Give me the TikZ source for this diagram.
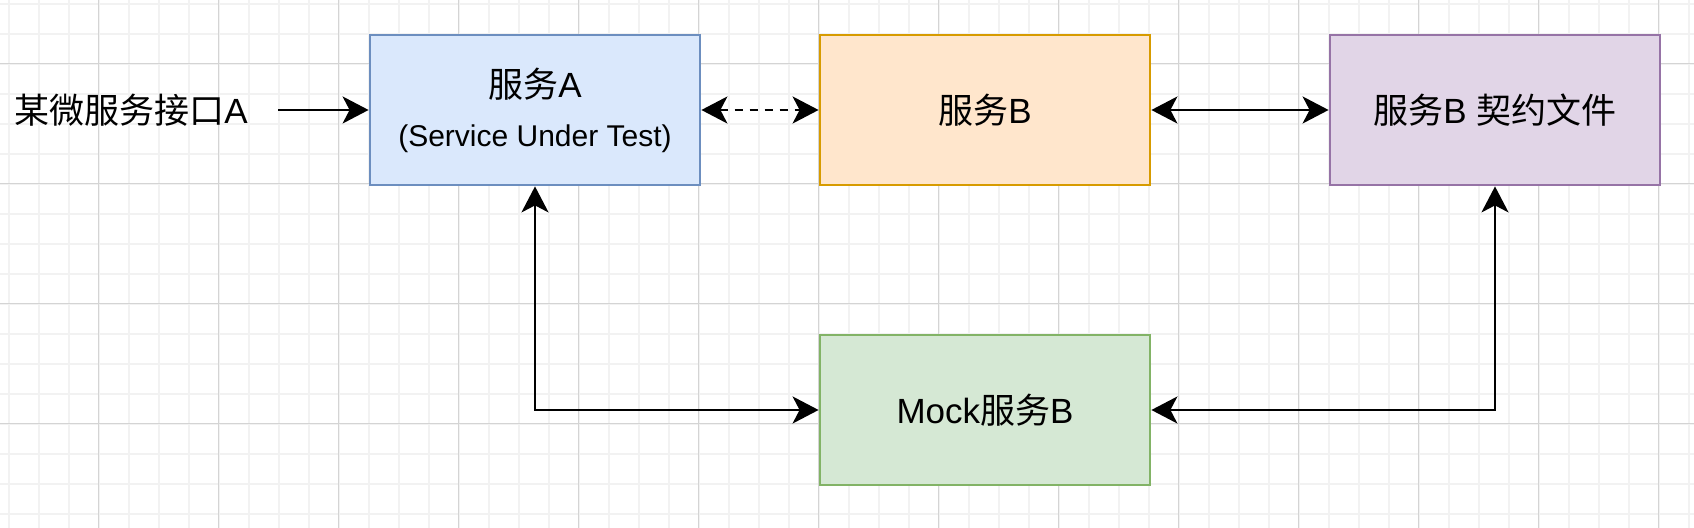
\documentclass[tikz,border=0pt]{standalone}
\usepackage{fontspec}
\setmainfont{Liberation Sans}
\newfontfamily\cjk{Noto Sans CJK SC}
\usetikzlibrary{arrows.meta}
\definecolor{aFill}{HTML}{DAE8FC}\definecolor{aLine}{HTML}{6C8EBF}
\definecolor{bFill}{HTML}{FFE6CC}\definecolor{bLine}{HTML}{D79B00}
\definecolor{cFill}{HTML}{E1D5E7}\definecolor{cLine}{HTML}{9673A6}
\definecolor{mFill}{HTML}{D5E8D4}\definecolor{mLine}{HTML}{82B366}
\definecolor{gridMinor}{HTML}{F2F2F2}\definecolor{gridMajor}{HTML}{D4D4D4}

\begin{document}
\begin{tikzpicture}[x=0.5pt,y=-0.5pt,
	svc/.style={draw,line width=1.4pt,minimum width=165pt,minimum height=75pt,inner sep=0pt,align=center,font=\fontsize{17.5}{24.5}\selectfont},
	arr/.style={line width=1.35pt,-{Stealth[length=13pt,width=13.5pt,inset=3.5pt]}},
	arr2/.style={arr,{Stealth[length=13pt,width=13.5pt,inset=3.5pt]}-{Stealth[length=13pt,width=13.5pt,inset=3.5pt]}}
	]
	\useasboundingbox (0,0) rectangle (1694,528);
	\fill[white] (0,0) rectangle (1694,528);
	% background grid
	\begin{scope}
		\clip (0,0) rectangle (1694,528);
		\foreach \i in {0,...,56} \draw[gridMinor,line width=1pt] (8.5+30*\i,0) -- ++(0,528);
		\foreach \j in {0,...,17} \draw[gridMinor,line width=1pt] (0,4+30*\j) -- ++(1694,0);
		\foreach \i in {0,...,13} \draw[gridMajor,line width=0.5pt] (98.5+120*\i,0) -- ++(0,528);
		\foreach \j in {0,...,3} \draw[gridMajor,line width=0.5pt] (0,64+120*\j) -- ++(1694,0);
	\end{scope}
	
	\node[font=\fontsize{17.5}{21}\selectfont,inner xsep=15pt] (ifA) at (131,110) {{\cjk 某微服务接口}A};
	\node[svc,fill=aFill,draw=aLine] (A) at (535,110) {{\cjk 服务}A\\{\fontsize{15}{24.5}\selectfont (Service Under Test)}};
	\node[svc,fill=bFill,draw=bLine] (B) at (985,110) {{\cjk 服务}B};
	\node[svc,fill=cFill,draw=cLine] (C) at (1495,110) {{\cjk 服务}B {\cjk 契约文件}};
	\node[svc,fill=mFill,draw=mLine] (M) at (985,410) {Mock{\cjk 服务}B};
	
	\draw[arr] (ifA.east) -- (A.west);
	\draw[arr2,dash pattern=on 4pt off 3.5pt] (A.east) -- (B.west);
	\draw[arr2] (B.east) -- (C.west);
	\draw[arr2] (A.south) |- (M.west);
	\draw[arr2] (C.south) |- (M.east);
\end{tikzpicture}
\end{document}
